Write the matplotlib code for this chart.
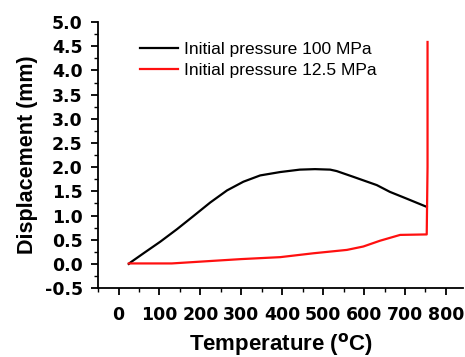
import matplotlib
matplotlib.use("Agg")
import matplotlib.pyplot as plt
from matplotlib.ticker import MultipleLocator

plt.rcParams['font.family'] = ['Liberation Sans', 'DejaVu Sans']
plt.rcParams['font.weight'] = 'bold'
plt.rcParams['mathtext.default'] = 'bf'

# Initial pressure 100 MPa
temp_100 = [25, 29, 61, 102, 143, 183, 224, 265, 305, 346, 395, 443, 480, 517, 533, 574, 631, 663, 704, 753]
disp_100 = [0.0, 0.03, 0.22, 0.46, 0.72, 0.99, 1.27, 1.52, 1.70, 1.83, 1.90, 1.95, 1.96, 1.95, 1.92, 1.80, 1.63, 1.49, 1.35, 1.18]

# Initial pressure 12.5 MPa
temp_12 = [25, 130, 224, 300, 395, 476, 558, 598, 639, 688, 753, 755, 755]
disp_12 = [0.01, 0.01, 0.06, 0.10, 0.14, 0.22, 0.29, 0.36, 0.48, 0.60, 0.61, 2.0, 4.59]

x_ticks = list(range(0, 900, 100))
y_ticks = [-0.5, 0.0, 0.5, 1.0, 1.5, 2.0, 2.5, 3.0, 3.5, 4.0, 4.5, 5.0]

fig = plt.figure(figsize=(4.65, 3.57), dpi=100)
ax = fig.add_axes([0.211, 0.193, 0.785, 0.745])

ax.plot(temp_100, disp_100, color='black', lw=1.6, label='Initial pressure 100 MPa')
ax.plot(temp_12, disp_12, color='#ff1010', lw=1.6, label='Initial pressure 12.5 MPa')

ax.set_xlim(-50, 842)
ax.set_ylim(-0.5, 5.0)
ax.xaxis.set_minor_locator(MultipleLocator(50))
ax.yaxis.set_minor_locator(MultipleLocator(0.25))
tick_font = dict(family='DejaVu Sans', fontweight='bold', fontsize=12.5)
ax.set_xticks(x_ticks, [str(t) for t in x_ticks], **tick_font)
ax.set_yticks(y_ticks, ['%.1f' % t for t in y_ticks], **tick_font)

for side in ['top', 'right']:
    ax.spines[side].set_visible(False)
for side in ['left', 'bottom']:
    ax.spines[side].set_linewidth(1.3)

ax.tick_params(which='major', direction='out', length=5, width=1.3)
ax.tick_params(axis='x', which='major', pad=8)
ax.tick_params(axis='y', which='major', pad=6)
ax.tick_params(which='minor', direction='out', length=3, width=1.0)

ax.set_xlabel('Temperature ($^o$C)', fontsize=16, fontweight='bold', labelpad=5)
ax.set_ylabel('Displacement (mm)', fontsize=15.5, fontweight='bold', labelpad=5)

ax.legend(loc='upper left', bbox_to_anchor=(0.096, 0.953), borderaxespad=0, frameon=False,
          prop={'size': 12.5, 'weight': 'normal'},
          handlelength=2.2, handletextpad=0.3, labelspacing=0.35)

fig.savefig('out.png', dpi=100)
